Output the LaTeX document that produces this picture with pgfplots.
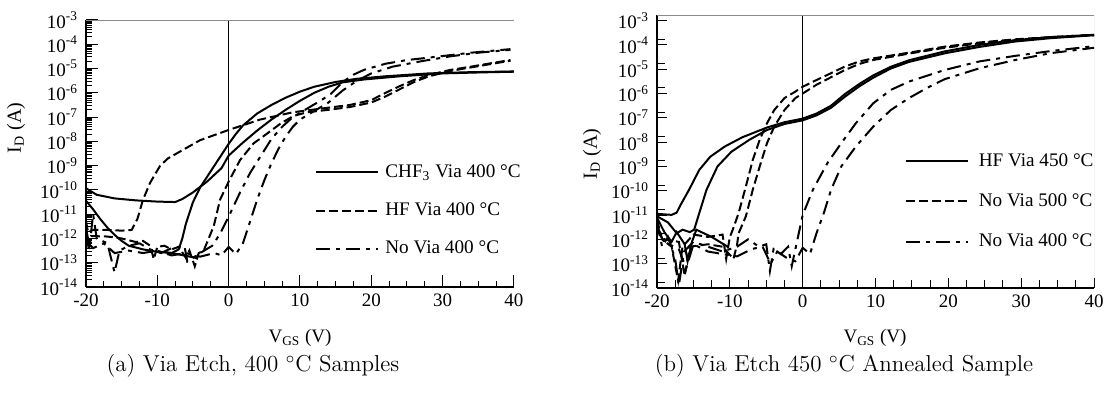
\documentclass[border=0pt]{standalone}
\usepackage{fontspec}
\usepackage{pgfplots}
\pgfplotsset{compat=1.18}
\newfontfamily\tnr{Liberation Serif}
\newcommand\ex[1]{10\textsuperscript{#1}}
\tikzset{hfdash/.style={dash pattern=on 4.5pt off 2pt},
         nvdash/.style={dash pattern=on 7pt off 3pt on 2pt off 3pt}}
\begin{document}
\begin{tikzpicture}
\useasboundingbox (0,0) rectangle (555.5pt,200pt);
% ---------------- left -----------------
\begin{axis}[anchor=south west, scale only axis, at={(43pt,56.5pt)}, width=214pt, height=133.5pt,
    xmin=-20, xmax=40, ymode=log, ymin=1e-14, ymax=1e-3,
    axis lines*=left, axis line style={line width=0.6pt},
    xtick={-20,-10,0,10,20,30,40}, xticklabels={-20,-10,0,10,20,30,40},
    minor x tick num=3,
    ytick={1e-14,1e-13,1e-12,1e-11,1e-10,1e-9,1e-8,1e-7,1e-6,1e-5,1e-4,1e-3},
    yticklabels={\ex{-14},\ex{-13},\ex{-12},\ex{-11},\ex{-10},\ex{-9},\ex{-8},\ex{-7},\ex{-6},\ex{-5},\ex{-4},\ex{-3}},
    tick align=inside, major tick length=6pt, minor tick length=3pt,
    tick style={black, line width=0.5pt},
    tick label style={font=\tnr\fontsize{9.5}{11}\selectfont},
    yticklabel style={xshift=-0.5pt},
    every axis plot/.append style={line width=1pt, black},
    legend cell align=left,
    legend image code/.code={\draw[#1] (0pt,0pt) -- (31pt,0pt);},
    legend style={draw=none, fill=none, inner sep=0pt, at={(0.535,0.286)}, anchor=west,
    row sep=9.2pt, column sep=2pt, font=\tnr\fontsize{9.6}{11}\selectfont,
    nodes={inner sep=1pt}}]
\addplot[solid] coordinates {(-20,1.17e-10) (-18.5,6.3e-11) (-16,4.47e-11) (-13,3.7e-11) (-10,3.3e-11) (-7.5,3.16e-11) (-6.5,4.2e-11) (-5,7.9e-11) (-3,2.24e-10) (-1,7.9e-10) (0,2.6e-9) (2,8.9e-9) (4,2.8e-8) (6,7.9e-8) (8,2e-7) (10,4.7e-7) (12,1e-6) (14,1.78e-6) (16,2.7e-6) (19,3.55e-6) (24,4.8e-6) (30,6.3e-6) (35,6.9e-6) (40,7.4e-6)};
\addlegendentry{CHF\textsubscript{3} Via 400 °C}
\addplot[solid, forget plot] coordinates {(-20,3.55e-11) (-19,1.58e-11) (-18,6.3e-12) (-17,2.8e-12) (-16,1.41e-12) (-15,7.9e-13) (-14,5e-13) (-12,3.55e-13) (-10,2.8e-13) (-8,2.5e-13) (-7,3.55e-13) (-6.5,1e-12) (-6,4e-12) (-5,3.16e-11) (-4,1.26e-10) (-3,3.55e-10) (-2,1e-9) (-1,2.8e-9) (0,7.9e-9) (1,2e-8) (2,4.5e-8) (4,1.41e-7) (6,3.16e-7) (8,6.3e-7) (10,1.12e-6) (12,1.78e-6) (15,2.8e-6) (18,3.8e-6) (22,4.8e-6) (28,6.3e-6) (34,7.1e-6) (40,7.6e-6)};
\addplot[solid, forget plot] coordinates {(-9,2.8e-13) (-7,2.2e-13) (-5.5,1.8e-13) (-4.3,1.5e-13)};
\addplot[hfdash] coordinates {(-20,5e-12) (-19.7,1.78e-12) (-19,2.24e-12) (-17,2.24e-12) (-15,2.1e-12) (-13.6,2.24e-12) (-12.8,6.3e-12) (-12,4e-11) (-11,2e-10) (-10.5,3.55e-10) (-9.6,1e-9) (-8.5,2e-9) (-7.3,3.16e-9) (-4,1.12e-8) (0,2.95e-8) (4.4,7.9e-8) (9,1.58e-7) (13,2.24e-7) (17,3.16e-7) (20,5e-7) (22,1e-6) (24,1.9e-6) (26,3.4e-6) (28,5.4e-6) (31,8.7e-6) (34,1.2e-5) (37,1.7e-5) (39.5,2.24e-5)};
\addlegendentry{HF Via 400 °C}
\addplot[hfdash, forget plot] coordinates {(-20,3.16e-12) (-19.6,3.16e-13) (-19.3,1.26e-12) (-17,1.2e-12) (-15,1e-12) (-13,7.1e-13) (-12,7.9e-13) (-11,5e-13) (-10.5,1.41e-13) (-10,4.5e-13) (-9,5e-13) (-8,3.55e-13) (-7,4.5e-13) (-6,1.58e-13) (-5.5,3.16e-13) (-4.75,7.1e-14) (-4.2,2.5e-13) (-3.5,3.16e-13) (-2.1,3.16e-12) (-1.2,4e-11) (0,2.2e-10) (1.6,1.7e-9) (3.5,8.3e-9) (5.4,2.1e-8) (7.3,5.5e-8) (9.1,1.12e-7) (11,1.58e-7) (14,2e-7) (17,2.6e-7) (20,4e-7) (22,7.1e-7) (24,1.41e-6) (26,2.8e-6) (28,4.7e-6) (31,7.9e-6) (34,1.12e-5) (37,1.58e-5) (39.5,2.1e-5)};
\addplot[nvdash] coordinates {(-20,2.5e-12) (-19.5,5e-13) (-19,1e-11) (-18.5,1e-12) (-17,6.3e-13) (-16,4e-14) (-15.3,3.16e-13) (-14,5e-13) (-12.5,6.3e-13) (-11,3.55e-13) (-9.5,2.5e-13) (-8,4e-13) (-6.2,5e-13) (-5.8,1.12e-13) (-4,2.5e-13) (-2.3,5e-13) (-1.2,1.58e-12) (0,7.9e-12) (1.6,7.9e-11) (3,5e-10) (4.5,2.5e-9) (6,1.26e-8) (7.5,4e-8) (9,1e-7) (11,2.24e-7) (13,5e-7) (14.3,8.9e-7) (16,2.8e-6) (17.5,5.6e-6) (19,8.9e-6) (22,1.58e-5) (25,2.24e-5) (28,2.8e-5) (31,3.55e-5) (34,4.5e-5) (37,5.4e-5) (39.5,6.3e-5)};
\addlegendentry{No Via 400 °C}
\addplot[nvdash, forget plot] coordinates {(-20,7.9e-13) (-19,4e-13) (-17.5,6.3e-13) (-16,2.5e-13) (-14,3.16e-13) (-12,2.5e-13) (-10,3.16e-13) (-8,2e-13) (-6,2.5e-13) (-4,1.78e-13) (-2,2.5e-13) (-1,2e-13) (0,4.5e-13) (1,2.24e-13) (2,6.3e-13) (3,5e-12) (4,4e-11) (5,2.5e-10) (6,1.26e-9) (7,5e-9) (8,1.58e-8) (9,4e-8) (10,7.9e-8) (12,1.78e-7) (14,4e-7) (16,1.26e-6) (18,3.16e-6) (20,6.3e-6) (23,1.2e-5) (27,2e-5) (31,3.16e-5) (35,4.5e-5) (39.5,5.9e-5)};
\addplot[solid, line width=0.7pt, forget plot] coordinates {(0,1e-14) (0,1e-3)};
\draw[black!45, line width=0.4pt] (rel axis cs:0,1) -- (rel axis cs:1,1) -- (rel axis cs:1,0);
\end{axis}
% ---------------- right -----------------
\begin{axis}[anchor=south west, scale only axis, at={(328.5pt,56pt)}, width=218.5pt, height=136.5pt,
    xmin=-20, xmax=40, ymode=log, ymin=1e-14, ymax=1.7e-3,
    axis lines*=left, axis line style={line width=0.6pt},
    xtick={-20,-10,0,10,20,30,40}, xticklabels={-20,-10,0,10,20,30,40},
    minor x tick num=3,
    ytick={1e-14,1e-13,1e-12,1e-11,1e-10,1e-9,1e-8,1e-7,1e-6,1e-5,1e-4,1e-3},
    yticklabels={\ex{-14},\ex{-13},\ex{-12},\ex{-11},\ex{-10},\ex{-9},\ex{-8},\ex{-7},\ex{-6},\ex{-5},\ex{-4},\ex{-3}},
    minor ytick={1.7e-14,1.7e-13,1.7e-12,1.7e-11,1.7e-10,1.7e-9,1.7e-8,1.7e-7,1.7e-6,1.7e-5,1.7e-4},
    tick align=inside, major tick length=5pt, minor tick length=4pt,
    tick style={black, line width=0.5pt},
    tick label style={font=\tnr\fontsize{9.5}{11}\selectfont},
    yticklabel style={xshift=-0.5pt},
    every axis plot/.append style={line width=1pt, black},
    legend cell align=left,
    legend image code/.code={\draw[#1] (0pt,0pt) -- (31pt,0pt);},
    legend style={draw=none, fill=none, inner sep=0pt, at={(0.566,0.317)}, anchor=west,
    row sep=10.2pt, column sep=4pt, font=\tnr\fontsize{9.6}{11}\selectfont,
    nodes={inner sep=1pt}}]
\addplot[solid] coordinates {(-20,1.12e-11) (-18,1.02e-11) (-17.3,1.26e-11) (-16.8,2.5e-11) (-15.6,1.1e-10) (-14.2,7.2e-10) (-12.7,2.5e-9) (-10.7,6.6e-9) (-8.3,1.58e-8) (-4.9,4e-8) (-2.5,6.6e-8) (0,9.3e-8) (1.9,1.5e-7) (3.9,3.16e-7) (5.8,9.5e-7) (7.8,2.5e-6) (9.7,5.6e-6) (12.1,1.26e-5) (14.6,2.34e-5) (19.5,5.4e-5) (24.3,1e-4) (29.2,1.58e-4) (34.1,2.1e-4) (40,2.6e-4)};
\addlegendentry{HF Via 450 °C}
\addplot[solid, forget plot] coordinates {(-20,8.9e-12) (-18.5,5e-12) (-17.3,1.78e-12) (-16.5,2.5e-12) (-15.5,2e-12) (-14.9,2.5e-12) (-14.2,1.2e-11) (-13.2,1.1e-10) (-11.7,1e-9) (-9.8,4e-9) (-7.3,1.26e-8) (-4.9,3.16e-8) (-2.5,5.6e-8) (0,7.9e-8) (1.9,1.26e-7) (3.9,2.6e-7) (5.8,7.4e-7) (7.8,2e-6) (9.7,4.5e-6) (12.1,1.07e-5) (14.6,2e-5) (19.5,4.5e-5) (24.3,8.3e-5) (29.2,1.38e-4) (34.1,1.9e-4) (40,2.5e-4)};
\addplot[solid, forget plot] coordinates {(-20,7.9e-12) (-19,2e-12) (-18,7.9e-13) (-17.3,2e-12) (-16.2,6.3e-13) (-15.8,1.26e-13) (-15.2,7.9e-13) (-14.6,2.5e-12) (-12.5,1.26e-12) (-10.3,5e-13)};
\addplot[hfdash] coordinates {(-20,6.3e-12) (-19.3,1e-12) (-18,5e-13) (-17.1,2e-14) (-16.5,5e-13) (-15,1.58e-12) (-13,1.26e-12) (-11,1.58e-12) (-10.5,1.58e-13) (-10,1.26e-12) (-9.6,2.5e-12) (-8.8,1.2e-11) (-7.8,1.5e-10) (-6.85,1.86e-9) (-5.9,1.26e-8) (-4.9,6e-8) (-3.9,2.1e-7) (-2.5,6.5e-7) (-1,1.2e-6) (0,1.9e-6) (1.9,3.6e-6) (3.9,6.9e-6) (5.8,1.29e-5) (7.8,2.1e-5) (9.7,2.8e-5) (14.6,4.8e-5) (19.5,8.5e-5) (24.3,1.26e-4) (29.2,1.7e-4) (34.1,2.1e-4) (40,2.6e-4)};
\addlegendentry{No Via 500 °C}
\addplot[hfdash, forget plot] coordinates {(-20,3.16e-12) (-19,1e-12) (-17,7.9e-13) (-16.2,3.16e-14) (-15.5,5e-13) (-13,6.3e-13) (-11,5e-13) (-9.5,1.58e-13) (-9,6.3e-13) (-8.8,1.78e-12) (-7.8,8.9e-12) (-6.85,1.1e-10) (-5.9,1e-9) (-4.9,9.1e-9) (-3.9,4.4e-8) (-2.5,2.1e-7) (-1,6.5e-7) (0,1e-6) (1.9,2.3e-6) (3.9,4.7e-6) (5.8,9.3e-6) (7.8,1.66e-5) (9.7,2.4e-5) (14.6,4.4e-5) (19.5,7.6e-5) (24.3,1.17e-4) (29.2,1.6e-4) (34.1,2e-4) (40,2.5e-4)};
\addplot[nvdash] coordinates {(-20,5e-12) (-19.3,5e-13) (-18.5,1.26e-12) (-17.5,1.58e-13) (-17,1.26e-14) (-16.3,3.16e-13) (-15,7.9e-13) (-13,5e-13) (-11,3.16e-13) (-9,5e-13) (-7.5,1e-12) (-6,5e-13) (-5,6.3e-13) (-4.5,5e-14) (-4,4e-13) (-3,2.5e-13) (-2,5e-13) (-1.5,7.9e-14) (-1,4e-13) (0,1e-11) (1.4,1.1e-10) (3.4,1.38e-9) (5.3,9.1e-9) (7.3,6e-8) (9.7,4e-7) (12.1,1.41e-6) (14.6,3.1e-6) (19.5,9.3e-6) (24.3,2.1e-5) (29.2,3.55e-5) (34.1,5.6e-5) (40,8.9e-5)};
\addlegendentry{No Via 400 °C}
\addplot[nvdash, forget plot] coordinates {(-20,2.5e-12) (-19,7.9e-13) (-17,4e-13) (-16,6.3e-14) (-15,6.3e-13) (-13,3.16e-13) (-11,2.5e-13) (-9,2e-13) (-7,4e-13) (-5.5,5e-13) (-4.4,1e-13) (-3.5,3.16e-13) (-2,1.58e-13) (-1,1.26e-13) (0,4.5e-13) (1,2.5e-13) (1.9,1.8e-12) (2.9,1.2e-11) (3.9,1.1e-10) (5.3,1e-9) (7.3,6.6e-9) (9.7,4.4e-8) (12.1,2.1e-7) (14.6,6.5e-7) (17,1.66e-6) (19.5,3.9e-6) (24.3,1.1e-5) (29.2,2.4e-5) (34.1,4.6e-5) (40,7.6e-5)};
\addplot[solid, line width=0.7pt, forget plot] coordinates {(0,1e-14) (0,1.7e-3)};
\draw[black!45, line width=0.4pt] (rel axis cs:0,1) -- (rel axis cs:1,1) -- (rel axis cs:1,0);
\end{axis}
% ---------------- labels -----------------
\node[inner sep=0pt, rotate=90, font=\tnr\fontsize{10}{12}\selectfont] at (8pt,136pt) {I\textsubscript{D} (A)};
\node[inner sep=0pt, rotate=90, font=\tnr\fontsize{10}{12}\selectfont] at (296pt,123pt) {I\textsubscript{D} (A)};
\node[inner sep=0pt, anchor=base, font=\tnr\fontsize{9.5}{11}\selectfont] at (150pt,28.5pt) {V\textsubscript{GS} (V)};
\node[inner sep=0pt, anchor=base, font=\tnr\fontsize{9.5}{11}\selectfont] at (437.5pt,28.5pt) {V\textsubscript{GS} (V)};
\node[inner sep=0pt, anchor=base, font=\fontsize{11.5}{14}\selectfont] at (126.5pt,14pt) {(a) Via Etch, 400 $^\circ$C Samples};
\node[inner sep=0pt, anchor=base, font=\fontsize{11.5}{14}\selectfont] at (422pt,14pt) {(b) Via Etch 450 $^\circ$C Annealed Sample};
\end{tikzpicture}
\end{document}
